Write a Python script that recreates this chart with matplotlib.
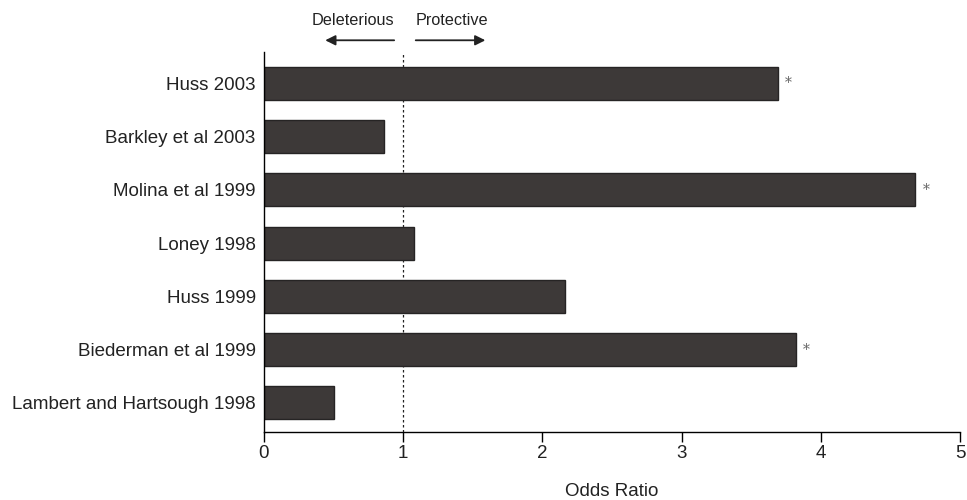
import matplotlib.pyplot as plt

plt.rcParams['font.family'] = ['Liberation Sans', 'DejaVu Sans']

# studies, bottom to top as drawn
studies = ['Lambert and Hartsough 1998', 'Biederman et al 1999', 'Huss 1999',
           'Loney 1998', 'Molina et al 1999', 'Barkley et al 2003', 'Huss 2003']
odds = [0.50, 3.82, 2.16, 1.08, 4.68, 0.86, 3.69]
significant = [False, True, False, False, True, False, True]
xticks = [0, 1, 2, 3, 4, 5]

fig = plt.figure(figsize=(9.67, 5.0), dpi=100)
ax = fig.add_axes([0.273, 0.136, 0.7198, 0.76])

ypos = list(range(len(studies)))
ax.barh(ypos, odds, height=0.62, color='#3d3938', edgecolor='#262424', linewidth=1.0, zorder=2)
ax.axvline(1, color='#222222', linestyle=(0, (2, 2)), linewidth=0.9, zorder=1)

for y, v, s in zip(ypos, odds, significant):
    if s:
        ax.text(v + 0.05, y, '*', fontsize=10, color='#666666', va='center', ha='left',
                family='DejaVu Serif')

ax.set_xlim(0, 5)
ax.set_ylim(-0.545, 6.59)
ax.set_yticks(ypos)
ax.set_yticklabels(studies, fontsize=13.5, color='#222222')
ax.set_xticks(xticks)
ax.set_xticklabels([str(t) for t in xticks], fontsize=13.5, color='#222222')
ax.tick_params(axis='y', length=0, pad=6)
ax.tick_params(axis='x', direction='out', length=7.5, width=1, pad=2)
ax.spines['top'].set_visible(False)
ax.spines['right'].set_visible(False)
ax.spines['left'].set_linewidth(1)
ax.spines['bottom'].set_linewidth(1)
ax.set_xlabel('Odds Ratio', fontsize=13.5, color='#222222', labelpad=15)

# direction arrows above the plot
ax.annotate('', xy=(0.42, 6.81), xytext=(0.955, 6.81), annotation_clip=False,
            arrowprops=dict(arrowstyle='-|>', color='#222222', lw=1.3, mutation_scale=15))
ax.annotate('', xy=(1.61, 6.81), xytext=(1.07, 6.81), annotation_clip=False,
            arrowprops=dict(arrowstyle='-|>', color='#222222', lw=1.3, mutation_scale=15))
ax.text(0.64, 7.19, 'Deleterious', fontsize=11.7, ha='center', va='center', color='#222222')
ax.text(1.35, 7.19, 'Protective', fontsize=11.7, ha='center', va='center', color='#222222')

plt.savefig('out.png', dpi=100)
